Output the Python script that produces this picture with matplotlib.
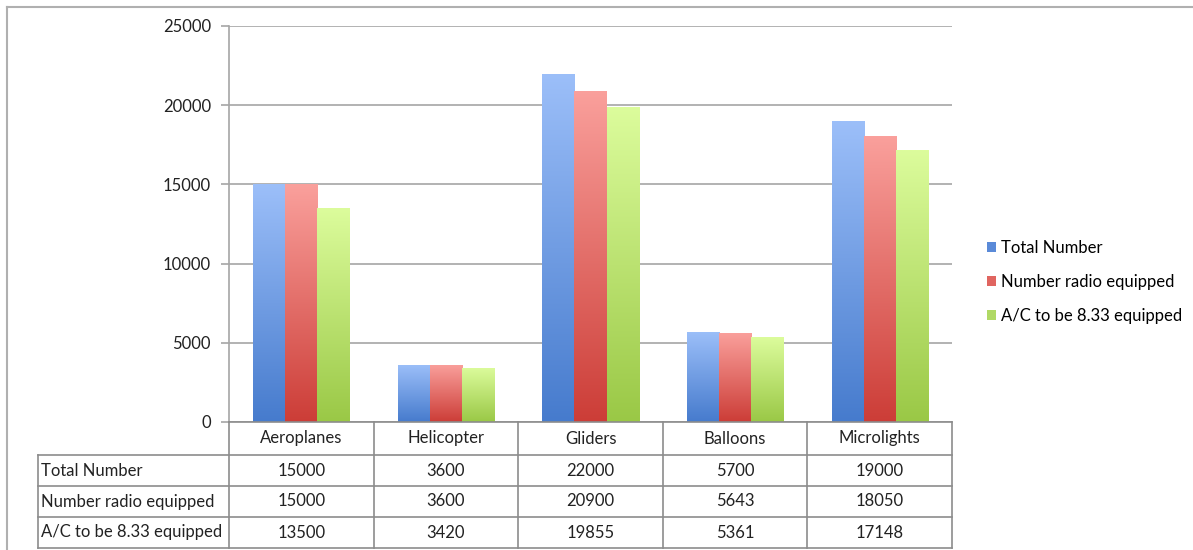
import numpy as np
import matplotlib.pyplot as plt
from matplotlib.colors import LinearSegmentedColormap
from matplotlib.patches import Patch

plt.rcParams['font.family'] = ['Lato', 'DejaVu Sans']

categories = ["Aeroplanes", "Helicopter", "Gliders", "Balloons", "Microlights"]
series_names = ["Total Number", "Number radio equipped", "A/C to be 8.33 equipped"]
total_number = [15000, 3600, 22000, 5700, 19000]
radio_equipped = [15000, 3600, 20900, 5643, 18050]
to_be_833 = [13500, 3420, 19855, 5361, 17148]
yticks = [0, 5000, 10000, 15000, 20000, 25000]

series = [total_number, radio_equipped, to_be_833]
# (top colour, bottom colour) for the vertical gradient of each series
grad_colors = [("#9cbff9", "#467bcd"), ("#faa09c", "#cc3d37"), ("#dcfc9c", "#9ac846")]
legend_colors = ["#5a8ad8", "#e06560", "#b0d965"]
FS = 12

W, H = 1193, 550
fig = plt.figure(figsize=(W / 100, H / 100), dpi=100)

# plot area in pixels
L, R, T, B = 229, 952, 26, 422
ax = fig.add_axes([L / W, 1 - B / H, (R - L) / W, (B - T) / H])

bw = 0.222
offsets = [-bw, 0, bw]
x = np.arange(len(categories))
grad = np.linspace(0, 1, 256).reshape(-1, 1)
for vals, off, (c_top, c_bot) in zip(series, offsets, grad_colors):
    cmap = LinearSegmentedColormap.from_list("g", [c_bot, c_top])
    bars = ax.bar(x + off, vals, width=bw, color="none", edgecolor="none", zorder=3)
    for rect, v in zip(bars, vals):
        x0 = rect.get_x()
        im = ax.imshow(grad, cmap=cmap, aspect="auto", origin="lower",
                       extent=[x0, x0 + bw, 0, v], zorder=3, interpolation="bilinear")
        im.set_clip_path(rect)

ax.set_xlim(-0.5, len(categories) - 0.5)
ax.set_ylim(0, 25000)
ax.set_yticks(yticks)
ax.set_yticklabels([str(t) for t in yticks], fontsize=FS, color="#222222")
ax.set_xticks([])
ax.grid(axis="y", color="#a6a6a6", linewidth=1.2, zorder=0)
ax.set_axisbelow(True)
for s in ["top", "right", "bottom"]:
    ax.spines[s].set_visible(False)
ax.spines["left"].set_color("#a6a6a6")
ax.spines["left"].set_linewidth(1.2)
ax.tick_params(axis="y", length=6, color="#a6a6a6", width=1.2, pad=7)

# data table below the plot, drawn on a full-figure overlay
ov = fig.add_axes([0, 0, 1, 1], zorder=5)
ov.set_xlim(0, W)
ov.set_ylim(H, 0)
ov.axis("off")
ov.patch.set_alpha(0)

line_kw = dict(color="#8c8c8c", linewidth=1.2)
col_w = (R - L) / len(categories)
col_edges = [L + col_w * k for k in range(len(categories) + 1)]
row_edges = [422, 455, 486, 517, 548]
lab_left = 38

ov.plot([L, R], [row_edges[0]] * 2, **line_kw)
for yy in row_edges[1:]:
    ov.plot([lab_left, R], [yy] * 2, **line_kw)
for xe in col_edges:
    ov.plot([xe, xe], [row_edges[0], row_edges[-1]], **line_kw)
ov.plot([lab_left, lab_left], [row_edges[1], row_edges[-1]], **line_kw)

for k, name in enumerate(categories):
    cx = (col_edges[k] + col_edges[k + 1]) / 2
    ov.text(cx, (row_edges[0] + row_edges[1]) / 2, name, ha="center", va="center",
            fontsize=FS, color="#222222")
for r, (name, vals) in enumerate(zip(series_names, series)):
    cy = (row_edges[r + 1] + row_edges[r + 2]) / 2
    ov.text(lab_left + 3, cy, name, ha="left", va="center", fontsize=FS, color="#222222")
    for k, v in enumerate(vals):
        cx = (col_edges[k] + col_edges[k + 1]) / 2
        ov.text(cx, cy, str(v), ha="center", va="center", fontsize=FS, color="#222222")

# outer frame (top and left edges)
ov.plot([7, W], [7, 7], color="#b0b0b0", linewidth=1.5)
ov.plot([7, 7], [7, H], color="#b0b0b0", linewidth=1.5)

handles = [Patch(facecolor=c, edgecolor="none") for c in legend_colors]
fig.legend(handles, series_names, loc="center left", bbox_to_anchor=(972 / W, 1 - 282 / H),
           frameon=False, fontsize=FS, handlelength=0.55, handleheight=0.55,
           handletextpad=0.3, labelspacing=1.1)

fig.savefig("out.png", dpi=100)
